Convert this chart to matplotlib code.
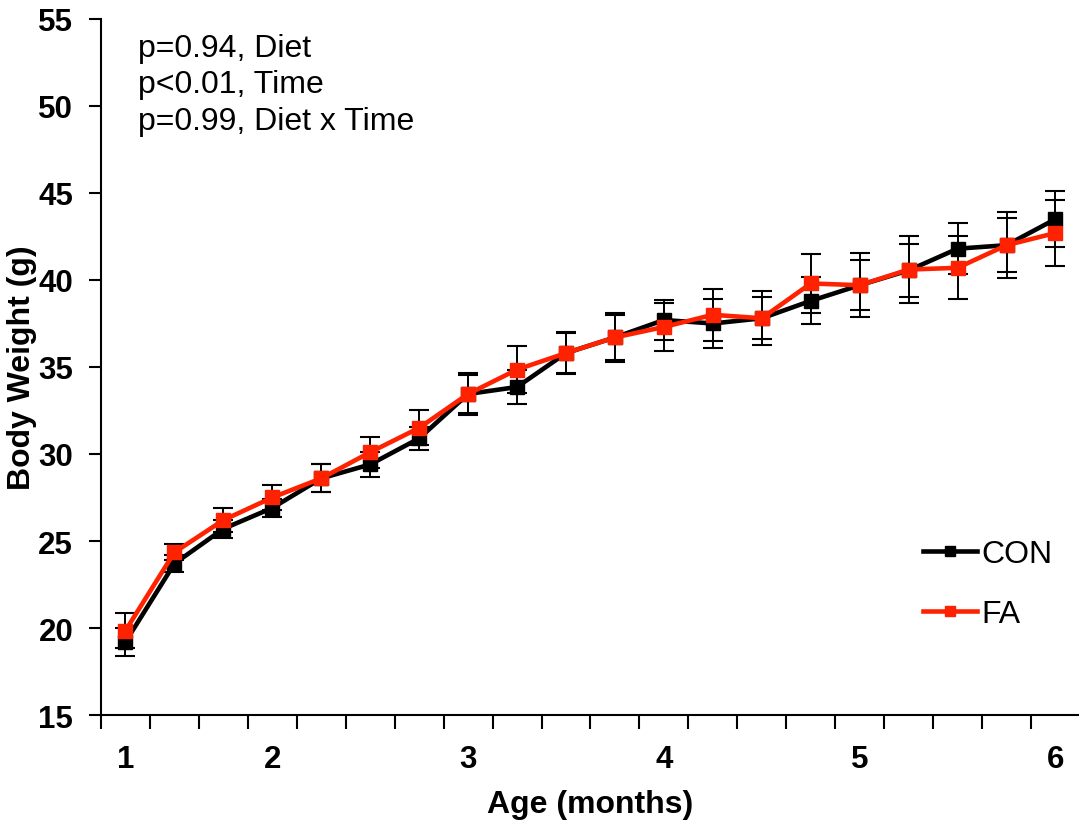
import matplotlib
matplotlib.use("Agg")
import matplotlib.pyplot as plt
import numpy as np

plt.rcParams['font.family'] = ['Liberation Sans', 'DejaVu Sans']

# weekly weights, 20 time points from 1 to 6 months
age_labels = ["1", "", "", "2", "", "", "", "3", "", "", "", "4", "", "", "", "5", "", "", "", "6"]

con_mean = [19.2, 23.7, 25.7, 26.9, 28.6, 29.4, 30.9, 33.45, 33.85, 35.8,
            36.7, 37.7, 37.5, 37.8, 38.8, 39.7, 40.55, 41.8, 42.0, 43.5]
con_se = [0.8, 0.5, 0.5, 0.5, 0.8, 0.7, 0.65, 1.2, 1.0, 1.15,
          1.3, 1.15, 1.4, 1.2, 1.35, 1.45, 1.5, 1.45, 1.55, 1.6]

fa_mean = [19.85, 24.35, 26.2, 27.5, 28.6, 30.1, 31.5, 33.45, 34.85, 35.8,
           36.7, 37.3, 38.0, 37.8, 39.8, 39.7, 40.6, 40.7, 42.0, 42.7]
fa_se = [1.0, 0.45, 0.7, 0.7, 0.8, 0.9, 1.0, 1.1, 1.35, 1.2,
         1.4, 1.4, 1.5, 1.55, 1.7, 1.85, 1.9, 1.8, 1.9, 1.9]

stats_lines = ["p=0.94, Diet", "p<0.01, Time", "p=0.99, Diet x Time"]

RED = "#FF2200"

fig = plt.figure(figsize=(10.79, 8.29), dpi=100)
ax = fig.add_axes([0.0936, 0.1363, 0.9073, 0.8396])

x = np.arange(len(age_labels))

# error bars (black for both groups), drawn under the lines
for mean, se in ((con_mean, con_se), (fa_mean, fa_se)):
    ax.errorbar(x, mean, yerr=se, fmt="none", ecolor="black",
                elinewidth=1.4, capsize=7.2, capthick=1.5, zorder=2)

ax.plot(x, con_mean, color="black", lw=3.3, marker="s", ms=10,
        mec="black", label="CON", zorder=3)
ax.plot(x, fa_mean, color=RED, lw=3.3, marker="s", ms=10,
        mec=RED, label="FA", zorder=4)

ax.set_xlim(-0.5, len(x) - 0.5)
ax.set_ylim(15, 55)
ax.set_yticks(np.arange(15, 56, 5))

# ticks sit between categories, labels under selected categories
ax.set_xticks(np.arange(-0.5, len(x) - 0.5, 1.0))
ax.set_xticklabels([])
ax.set_xticks(x, minor=True)
ax.set_xticklabels(age_labels, minor=True)
ax.tick_params(axis="x", which="major", direction="out", length=10, width=1.5)
ax.tick_params(axis="x", which="minor", length=0, pad=21, labelsize=22.5)
ax.tick_params(axis="y", direction="out", length=9, width=1.5, pad=11, labelsize=22.5)
for lbl in ax.get_xticklabels(minor=True) + ax.get_yticklabels():
    lbl.set_fontweight("bold")

for side in ("top", "right"):
    ax.spines[side].set_visible(False)
for side in ("left", "bottom"):
    ax.spines[side].set_linewidth(1.5)

ax.set_xlabel("Age (months)", fontsize=23, fontweight="bold", va="center")
ax.set_ylabel("Body Weight (g)", fontsize=23, fontweight="bold", va="center")
ax.xaxis.set_label_coords(0.5, -0.1279)
ax.yaxis.set_label_coords(-0.081, 0.5)

ax.text(0.038, 0.980, "\n".join(stats_lines), transform=ax.transAxes,
        fontsize=23, va="top", ha="left", linespacing=1.28)

leg = ax.legend(loc="upper left", bbox_to_anchor=(923 / 1079, 1 - 540 / 829),
                bbox_transform=fig.transFigure, frameon=False, fontsize=23,
                handlelength=1.7, handletextpad=0.12, borderpad=0,
                borderaxespad=0, labelspacing=0.94, markerscale=0.75)

fig.savefig("out.png", dpi=100)
